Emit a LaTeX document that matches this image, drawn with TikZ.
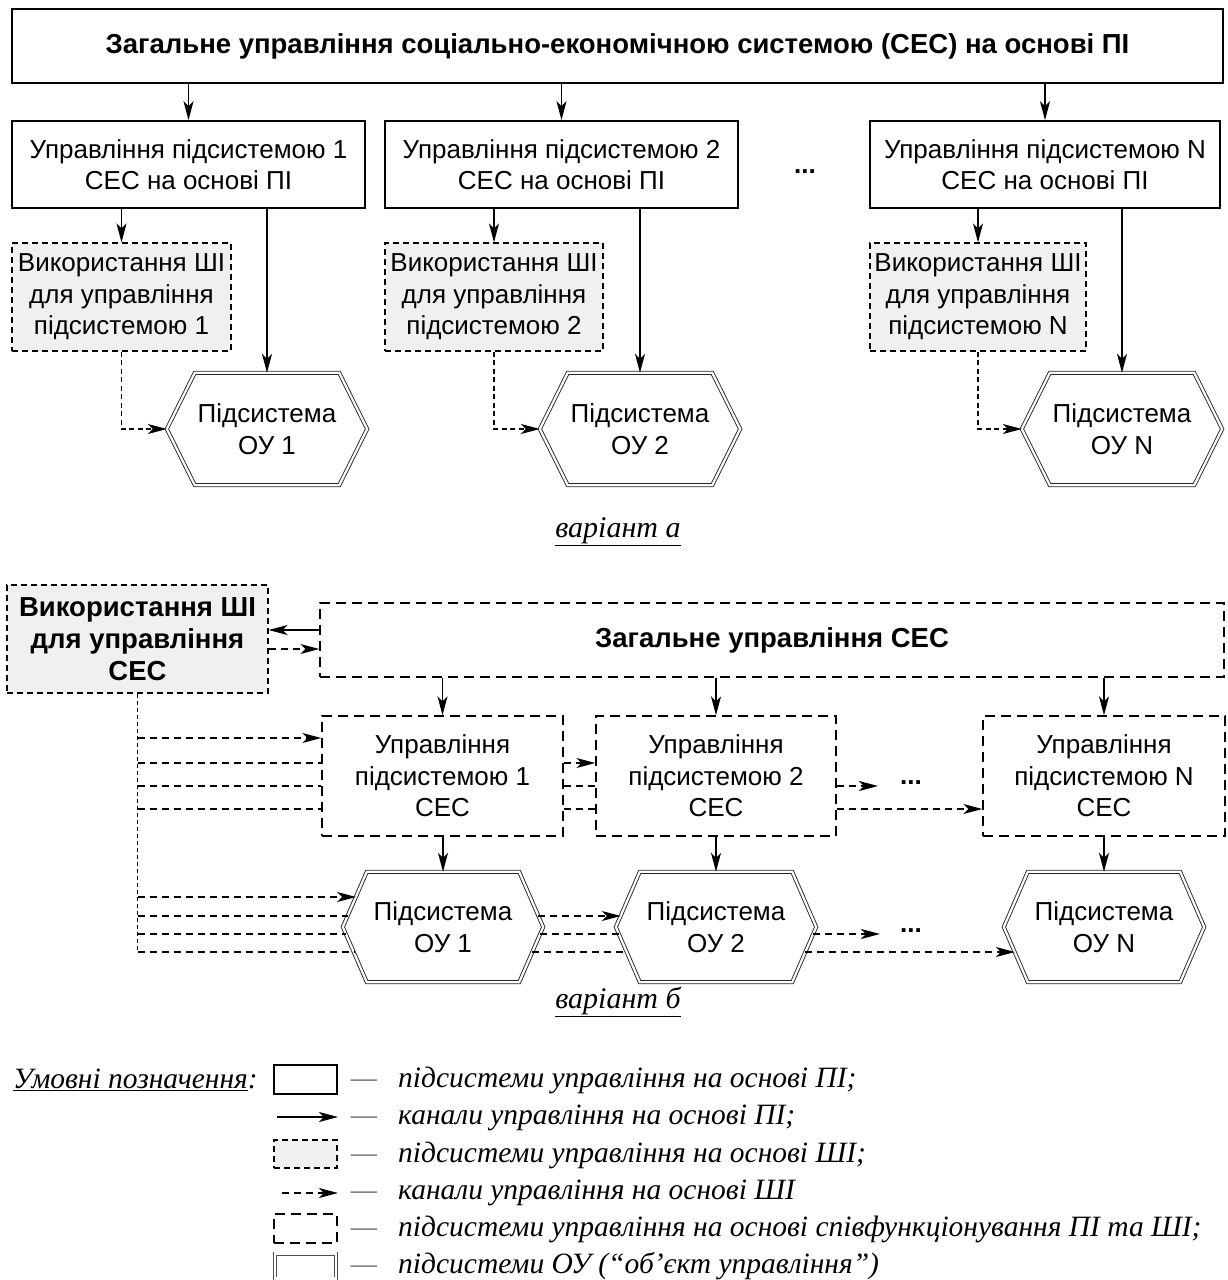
\documentclass[tikz,border=0pt]{standalone}
\usepackage{fontspec}
\setmainfont{Liberation Sans}
\newfontfamily\tms{Liberation Serif}
\usetikzlibrary{arrows.meta,calc}
\newcommand\fsz{\fontsize{26}{31.5}\selectfont}
\newcommand\bsz{\fontsize{27.5}{32}\selectfont\bfseries}
\newcommand\lgz{\tms\itshape\fontsize{29.5}{32}\selectfont}
\newcommand\vlz{\tms\itshape\fontsize{30}{32}\selectfont}
\newcommand\hexdraw[2]{%
  \draw[hexline] (#1.west) -- ([xshift=#2]#1.north west) -- ([xshift=-#2]#1.north east) -- (#1.east) -- ([xshift=-#2]#1.south east) -- ([xshift=#2]#1.south west) -- cycle;}
\tikzset{
  pibox/.style={draw, line width=1.7pt, inner sep=0pt, align=center, font=\fsz},
  shibox/.style={draw, line width=1.2pt, dash pattern=on 6pt off 4pt, fill=black!6, inner sep=0pt, align=center, font=\fsz},
  jointbox/.style={draw, line width=1.4pt, dash pattern=on 10pt off 6pt, inner sep=0pt, align=center, font=\fsz},
  hexnode/.style={inner sep=0pt, align=center, font=\fsz, minimum width=200pt},
  hexline/.style={draw=black!85, line width=0.9pt, double=white, double distance=2.2pt, line join=miter},
  arrowhd/.style={-{Stealth[length=19pt,width=10pt,inset=5pt]}},
  pi/.style={line width=1.6pt, arrowhd},
  shi/.style={line width=1.3pt, dash pattern=on 7pt off 5pt},
  shia/.style={line width=1.1pt, dash pattern=on 5pt off 3.5pt},
  bus/.style={line width=1.1pt, dash pattern=on 4pt off 3pt},
  dots/.style={font=\fsz\bfseries, inner sep=0pt},
  lgtext/.style={font=\lgz, anchor=west, inner sep=0pt},
  lgdash/.style={font=\lgz, text=black!55, inner sep=0pt, anchor=base},
}
\begin{document}
\begin{tikzpicture}[x=1pt,y=-1pt]
\useasboundingbox (0,0) rectangle (1228,1280);

% ================= variant a =================
\node[pibox, font=\bsz, minimum width=1211pt, minimum height=74pt] (top) at (617.5,46) {Загальне управління соціально-економічною системою (СЕС) на основі ПІ};

\node[pibox, minimum width=353pt, minimum height=87pt] (b1) at (188.5,164.5) {Управління підсистемою 1\\СЕС на основі ПІ};
\node[pibox, minimum width=353pt, minimum height=87pt] (b2) at (561.5,164.5) {Управління підсистемою 2\\СЕС на основі ПІ};
\node[pibox, minimum width=350pt, minimum height=87pt] (bN) at (1045,164.5) {Управління підсистемою N\\СЕС на основі ПІ};
\node[dots] (da) at (805,172) {...};

\node[shibox, minimum width=219pt, minimum height=108pt] (g1) at (121.5,297) {Використання ШІ\\для управління\\підсистемою 1};
\node[shibox, minimum width=218pt, minimum height=108pt] (g2) at (494,297) {Використання ШІ\\для управління\\підсистемою 2};
\node[shibox, minimum width=216pt, minimum height=108pt] (gN) at (978,297) {Використання ШІ\\для управління\\підсистемою N};

\node[hexnode, minimum height=112pt] (h1) at (267,429) {Підсистема\\ОУ 1};
\node[hexnode, minimum height=112pt] (h2) at (640,429) {Підсистема\\ОУ 2};
\node[hexnode, minimum height=112pt] (hN) at (1122,429) {Підсистема\\ОУ N};
\hexdraw{h1}{28pt}
\hexdraw{h2}{28pt}
\hexdraw{hN}{28pt}

\foreach \b in {b1,b2,bN}{\draw[pi] (\b.north |- top.south) -- (\b.north);}
\draw[pi] (g1.north |- b1.south) -- (g1.north);
\draw[pi] (g2.north |- b2.south) -- (g2.north);
\draw[pi] (gN.north |- bN.south) -- (gN.north);
\draw[pi] (h1.north |- b1.south) -- (h1.north);
\draw[pi] (h2.north |- b2.south) -- (h2.north);
\draw[pi] (hN.north |- bN.south) -- (hN.north);
\draw[shia, arrowhd] (g1.south) |- (h1.west);
\draw[shia, arrowhd] (g2.south) |- (h2.west);
\draw[shia, arrowhd] (gN.south) |- (hN.west);

\node[font=\vlz, inner sep=0pt] (va) at (618,532) {\underline{варіант а}};

% ================= variant b =================
\node[shibox, font=\bsz, minimum width=261pt, minimum height=108pt] (G) at (137.5,639) {Використання ШІ\\для управління\\СЕС};
\node[jointbox, font=\bsz, minimum width=904pt, minimum height=74pt] (T) at (772,640) {Загальне управління СЕС};

\node[jointbox, minimum width=241pt, minimum height=120pt] (S1) at (442.5,776) {Управління\\підсистемою 1\\СЕС};
\node[jointbox, minimum width=240pt, minimum height=120pt] (S2) at (716,776) {Управління\\підсистемою 2\\СЕС};
\node[jointbox, minimum width=242pt, minimum height=120pt] (SN) at (1104,776) {Управління\\підсистемою N\\СЕС};

\node[hexnode, minimum height=110pt] (H1) at (443,927) {Підсистема\\ОУ 1};
\node[hexnode, minimum height=110pt] (H2) at (716,927) {Підсистема\\ОУ 2};
\node[hexnode, minimum height=110pt] (HN) at (1104,927) {Підсистема\\ОУ N};
\hexdraw{H1}{24pt}
\hexdraw{H2}{24pt}
\hexdraw{HN}{24pt}

\node[dots] (d1) at (911,783) {...};
\node[dots] (d2) at (911,931) {...};

% levels
\coordinate (y630) at (0,630);
\coordinate (y649) at (0,649);
\coordinate (y738) at (0,738);
\coordinate (y763) at (0,763);
\coordinate (y786) at (0,786);
\coordinate (y809) at (0,809);
\coordinate (y952) at (0,952);

\draw[pi] (T.west |- y630) -- (G.east |- y630);
\draw[shi, arrowhd] (G.east |- y649) -- (T.west |- y649);

\draw[pi] (S1.north |- T.south) -- (S1.north);
\draw[pi] (S2.north |- T.south) -- (S2.north);
\draw[pi] (SN.north |- T.south) -- (SN.north);
\draw[pi] (H1.north |- S1.south) -- (H1.north);
\draw[pi] (H2.north |- S2.south) -- (H2.north);
\draw[pi] (HN.north |- SN.south) -- (HN.north);

% bus from G
\draw[bus] (G.south) -- (G.south |- y952);

% channels to the management subsystems
\draw[shi, arrowhd] (G.south |- y738) -- (S1.west |- y738);
\draw[shi] (G.south |- y763) -- (S1.west |- y763);
\draw[shi] (G.south |- y786) -- (S1.west |- y786);
\draw[shi] (G.south |- y809) -- (S1.west |- y809);
\draw[shi, arrowhd] (S1.east |- y763) -- (S2.west |- y763);
\draw[shi] (S1.east |- y786) -- (S2.west |- y786);
\draw[shi] (S1.east |- y809) -- (S2.west |- y809);
\coordinate (c1end) at (878,786);
\draw[shi, arrowhd] (S2.east |- y786) -- (c1end);
\draw[shi, arrowhd] (S2.east |- y809) -- (SN.west |- y809);

% channels to the object subsystems
\coordinate (a1) at (356.1,897);  \coordinate (a2) at (347.8,916);
\coordinate (a3) at (346.1,934);  \coordinate (a4) at (353.9,952);
\coordinate (r2) at (538.2,916);  \coordinate (r3) at (539.9,934); \coordinate (r4) at (532.1,952);
\coordinate (l2) at (620.8,916);  \coordinate (l3) at (619.1,934); \coordinate (l4) at (626.9,952);
\coordinate (s3) at (812.9,934);  \coordinate (s4) at (805.1,952);
\coordinate (c2end) at (880,934);
\coordinate (n4) at (1014.9,952);
\draw[shi, arrowhd] (G.south |- a1) -- (a1);
\draw[shi] (G.south |- a2) -- (a2);
\draw[shi] (G.south |- a3) -- (a3);
\draw[shi] (G.south |- a4) -- (a4);
\draw[shi, arrowhd] (r2) -- (l2);
\draw[shi] (r3) -- (l3);
\draw[shi] (r4) -- (l4);
\draw[shi, arrowhd] (s3) -- (c2end);
\draw[shi, arrowhd] (s4) -- (n4);

\node[font=\vlz, inner sep=0pt] (vb) at (618,1002) {\underline{варіант б}};

% ================= legend =================
\node[lgtext] (lt) at (13,1080) {\underline{Умовні позначення}:};
\node[draw, line width=1.7pt, minimum width=63pt, minimum height=29pt, inner sep=0pt] (k1) at (305.5,1079.5) {};
\coordinate (k2a) at (277,1117); \coordinate (k2b) at (338,1117);
\draw[pi] (k2a) -- (k2b);
\node[draw, line width=1.2pt, dash pattern=on 6pt off 4pt, fill=black!6, minimum width=63pt, minimum height=28pt, inner sep=0pt] (k3) at (305.5,1154) {};
\coordinate (k4a) at (282,1193); \coordinate (k4b) at (338,1193);
\draw[line width=1.6pt, dash pattern=on 7pt off 5pt, arrowhd] (k4a) -- (k4b);
\node[draw, line width=1.4pt, dash pattern=on 10pt off 6pt, minimum width=63pt, minimum height=29pt, inner sep=0pt] (k5) at (305.5,1228.5) {};
\node[hexline, draw=black!70, minimum width=61pt, minimum height=25pt, inner sep=0pt] (k6) at (305.5,1266) {};

\node[lgtext] (t1) at (398,1080) {підсистеми управління на основі ПІ;};
\node[lgtext] (t2) at (398,1118) {канали управління на основі ПІ;};
\node[lgtext] (t3) at (398,1155) {підсистеми управління на основі ШІ;};
\node[lgtext] (t4) at (398,1193) {канали управління на основі ШІ};
\node[lgtext] (t5) at (398,1229) {підсистеми управління на основі співфункціонування ПІ та ШІ;};
\node[lgtext] (t6) at (398,1266) {підсистеми ОУ (“об’єкт управління”)};
\coordinate (dx) at (364,0);
\foreach \t/\nm in {t1/m1,t2/m2,t3/m3,t4/m4,t5/m5,t6/m6}{\node[lgdash] (\nm) at (dx |- \t.base) {—};}
\end{tikzpicture}
\end{document}
